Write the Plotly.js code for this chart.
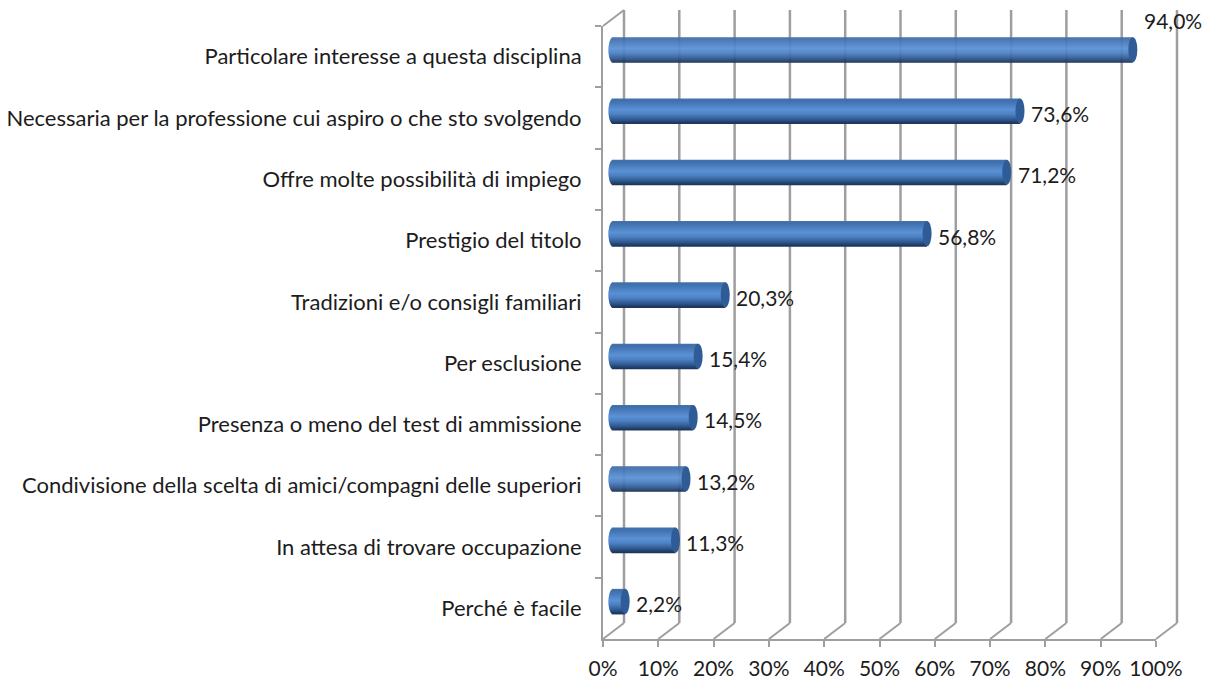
<!DOCTYPE html>
<html><head><meta charset="utf-8">
<script src="https://cdn.plot.ly/plotly-3.0.1.min.js"></script>
<style>html,body{margin:0;padding:0;background:#fff}#c{width:1210px;height:684px}</style>
</head><body><div id="c"></div>
<script>
const categories = ["Particolare interesse a questa disciplina","Necessaria per la professione cui aspiro o che sto svolgendo","Offre molte possibilità di impiego","Prestigio del titolo","Tradizioni e/o consigli familiari","Per esclusione","Presenza o meno del test di ammissione","Condivisione della scelta di amici/compagni delle superiori","In attesa di trovare occupazione","Perché è facile"];
const values = [94.0,73.6,71.2,56.8,20.3,15.4,14.5,13.2,11.3,2.2];
const xTicks = [0,10,20,30,40,50,60,70,80,90,100];

const L=603,R=1156,T=26,B=639,W=R-L,H=B-T;
const pxX=W/100, catH=H/categories.length;
const depthX=21, depthY=16, barDX=10, barDY=7, barH=25, capRX=4.5;
const font="Lato, 'Open Sans', sans-serif", ink="#1c1c1c", grey="#9e9e9e";

const stops=[[0,[70,115,170]],[0.08,[62,110,172]],[0.45,[91,145,213]],[0.62,[78,130,196]],[0.85,[46,88,143]],[1,[27,50,84]]];
function grad(t){for(let i=1;i<stops.length;i++){if(t<=stops[i][0]){const a=stops[i-1],b=stops[i],f=(t-a[0])/(b[0]-a[0]);
  return 'rgb('+a[1].map((c,k)=>Math.round(c+(b[1][k]-c)*f)).join(',')+')';}}return 'rgb(27,50,84)';}

const traces=[{type:'scatter',mode:'none',x:[0,100],y:[categories[0],categories[categories.length-1]],xaxis:'x',yaxis:'y',hoverinfo:'skip',showlegend:false}];
const N=25;
for(let s=0;s<N;s++){
  const t=(s+0.5)/N, e=2*t-1, inset=capRX*(1-Math.sqrt(1-e*e));
  const base=values.map(()=>(inset-capRX)/pxX);
  traces.push({type:'bar',orientation:'h',xaxis:'x2',yaxis:'y',x:values.map((v,i)=>v-base[i]),y:categories,base:base,
    width:categories.map(()=>1.6/catH),
    offset:categories.map(()=>(-barDY-barH/2+s*barH/N)/catH),
    marker:{color:grad(t),line:{width:0}},hoverinfo:'skip',showlegend:false,cliponaxis:false});
}

const shapes=[];
xTicks.forEach(t=>{
  const f=t/100;
  shapes.push({type:'line',xref:'paper',yref:'paper',layer:'below',x0:f+depthX/W,x1:f+depthX/W,y0:depthY/H,y1:1+depthY/H,line:{color:grey,width:2.5}});
  shapes.push({type:'line',xref:'paper',yref:'paper',layer:'below',x0:f,x1:f+depthX/W,y0:0,y1:depthY/H,line:{color:grey,width:2}});
});
shapes.push({type:'line',xref:'paper',yref:'paper',layer:'below',x0:0,x1:depthX/W,y0:1,y1:1+depthY/H,line:{color:grey,width:2}});
values.forEach((v,i)=>{
  shapes.push({type:'circle',xref:'x2',yref:'y',xsizemode:'pixel',ysizemode:'pixel',xanchor:v,yanchor:i,
    x0:-capRX,x1:capRX,y0:barDY-barH/2,y1:barDY+barH/2,fillcolor:'#2f5c96',line:{width:0},layer:'above'});
});

const annotations=values.map((v,i)=>({xref:'x2',yref:'y',x:v,y:i,text:v.toFixed(1).replace('.',',')+'%',showarrow:false,
  xanchor:'left',yanchor:'middle',xshift:9,yshift:i===0?36:4.5,font:{family:font,size:21,color:ink}}));

const layout={width:1210,height:684,margin:{l:L,r:1210-R,t:T,b:684-B,pad:0},paper_bgcolor:'#fff',plot_bgcolor:'rgba(0,0,0,0)',
  barmode:'overlay',showlegend:false,shapes,annotations,font:{family:font,size:21,color:ink},
  xaxis:{range:[0,100],tickmode:'array',tickvals:xTicks,ticktext:xTicks.map(t=>t+'%'),showgrid:false,zeroline:false,showline:true,linecolor:grey,linewidth:2,
    ticks:'outside',ticklen:6,tickwidth:2,tickcolor:grey,tickfont:{family:font,size:21,color:ink},ticklabelstandoff:4},
  xaxis2:{overlaying:'x',range:[-barDX/pxX,100-barDX/pxX],visible:false},
  yaxis:{type:'category',categoryorder:'array',categoryarray:categories,range:[categories.length-0.5,-0.5],tickson:'boundaries',showgrid:false,zeroline:false,
    showline:true,linecolor:grey,linewidth:2,ticks:'outside',ticklen:6,tickwidth:2,tickcolor:grey,tickfont:{family:font,size:22,color:ink},ticklabelstandoff:15,automargin:false}
};
Plotly.newPlot('c',traces,layout,{displayModeBar:false,staticPlot:true});
</script></body></html>
